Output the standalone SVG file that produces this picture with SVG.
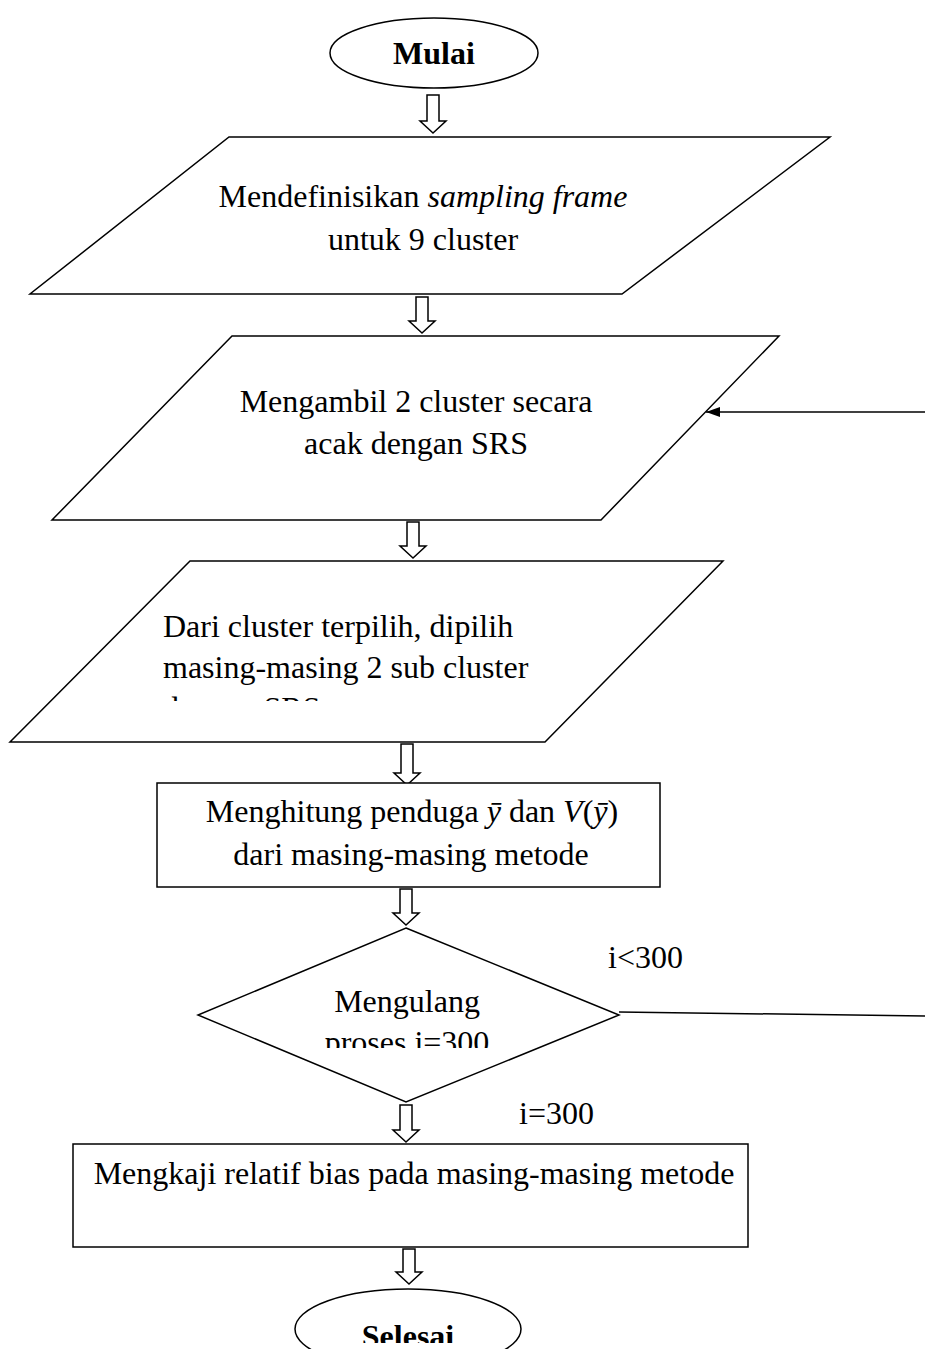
<svg xmlns="http://www.w3.org/2000/svg" width="925" height="1349" viewBox="0 0 925 1349">
<style>
.s{fill:#fff;stroke:#000;stroke-width:1.5}
.t{font-family:"Liberation Serif","Times New Roman",serif;font-size:32px;fill:#000}
.b{font-weight:bold}
.m{text-anchor:middle}
.c{fill:none;stroke:#000;stroke-width:1.5}
</style>
<defs>
<marker id="ah" markerWidth="14" markerHeight="10" refX="14" refY="5" orient="auto" markerUnits="userSpaceOnUse">
<path d="M0,0 L14,5 L0,10 Z" fill="#000"/>
</marker>
<clipPath id="c3"><rect x="0" y="550" width="925" height="151"/></clipPath>
<clipPath id="cd"><rect x="0" y="920" width="925" height="128"/></clipPath>
<clipPath id="ce"><rect x="0" y="1280" width="925" height="63"/></clipPath>
</defs>

<g id="connectors">
<path class="s" d="M427,95 H439 V121 H446 L433,133 L420,121 H427 Z"/>
<path class="s" d="M416,297 H428 V321 H435 L422,333 L409,321 H416 Z"/>
<path class="s" d="M407,522 H419 V546 H426 L413,558 L400,546 H407 Z"/>
<path class="s" d="M401,744 H413 V773 H420 L407,785 L394,773 H401 Z"/>
<path class="s" d="M400,889 H412 V913 H419 L406,925 L393,913 H400 Z"/>
<path class="s" d="M400,1105 H412 V1130 H419 L406,1142 L393,1130 H400 Z"/>
<path class="s" d="M403,1249 H415 V1272 H422 L409,1284 L396,1272 H403 Z"/>
<line class="c" x1="925" y1="412" x2="706" y2="412" marker-end="url(#ah)"/>
<line class="c" x1="619" y1="1012" x2="925" y2="1016"/>
<text class="t" x="608" y="968">i&lt;300</text>
<text class="t" x="519" y="1124">i=300</text>
</g>

<g id="mulai">
<ellipse class="s" cx="434" cy="53" rx="104" ry="35"/>
<text class="t b m" x="434" y="64">Mulai</text>
</g>

<g id="define-frame">
<polygon class="s" points="229,137 830,137 622,294 30,294"/>
<text class="t m" x="423" y="207">Mendefinisikan <tspan font-style="italic">sampling frame</tspan></text>
<text class="t m" x="423" y="250">untuk 9 cluster</text>
</g>

<g id="take-cluster">
<polygon class="s" points="232,336 779,336 601,520 52,520"/>
<text class="t m" x="416" y="412">Mengambil 2 cluster secara</text>
<text class="t m" x="416" y="454">acak dengan SRS</text>
</g>

<g id="sub-cluster">
<polygon class="s" points="190,561 723,561 545,742 10,742"/>
<g clip-path="url(#c3)">
<text class="t" x="163" y="637">Dari cluster terpilih, dipilih</text>
<text class="t" x="163" y="678">masing-masing 2 sub cluster</text>
<text class="t" x="163" y="719">dengan SRS</text>
</g>
</g>

<g id="compute">
<rect class="s" x="157" y="783" width="503" height="104"/>
<text class="t m" x="412" y="822">Menghitung penduga <tspan font-style="italic">ȳ</tspan> dan <tspan font-style="italic">V</tspan>(<tspan font-style="italic">ȳ</tspan>)</text>
<text class="t m" x="411" y="865">dari masing-masing metode</text>
</g>

<g id="repeat">
<polygon class="s" points="406,928 619,1015 406,1102 198,1015"/>
<g clip-path="url(#cd)">
<text class="t m" x="407" y="1012">Mengulang</text>
<text class="t m" x="407" y="1053">proses i=300</text>
</g>
</g>

<g id="evaluate">
<rect class="s" x="73" y="1144" width="675" height="103"/>
<text class="t m" x="414" y="1184">Mengkaji relatif bias pada masing-masing metode</text>
</g>

<g id="selesai">
<ellipse class="s" cx="408" cy="1329" rx="113" ry="40"/>
<g clip-path="url(#ce)">
<text class="t b m" x="408" y="1347">Selesai</text>
</g>
</g>
</svg>
